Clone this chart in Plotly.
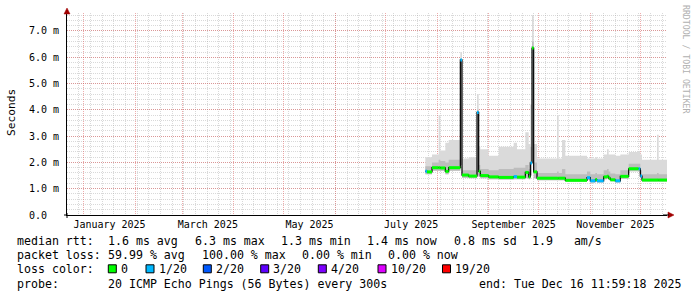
import plotly.graph_objects as go

# ---------------- data ----------------
X_START = "2024-12-22"
X_END = "2025-12-17"
DATA_END = "2025-12-17"

seg_start = [
    "2025-07-25", "2025-07-26", "2025-07-29", "2025-08-02", "2025-08-03", "2025-08-06",
    "2025-08-08", "2025-08-15", "2025-08-16", "2025-08-20", "2025-08-25", "2025-08-26",
    "2025-08-27", "2025-09-01", "2025-09-07", "2025-09-16", "2025-09-18", "2025-09-23",
    "2025-09-25", "2025-09-26", "2025-09-27", "2025-09-28", "2025-09-30", "2025-10-12",
    "2025-10-13", "2025-10-15", "2025-10-17", "2025-10-30", "2025-11-01", "2025-11-04",
    "2025-11-05", "2025-11-09", "2025-11-11", "2025-11-12", "2025-11-13", "2025-11-16",
    "2025-11-19", "2025-11-24", "2025-11-30", "2025-12-01", "2025-12-02", "2025-12-11",
    "2025-12-12",
]
median_ms = [
    1.66, 1.64, 1.80, 1.80, 1.79, 1.66,
    1.80, 5.90, 1.52, 1.48, 3.90, 1.66,
    1.50, 1.45, 1.43, 1.46, 1.44, 1.62,
    1.45, 1.98, 6.35, 1.64, 1.40, 1.40,
    1.40, 1.40, 1.32, 1.42, 1.30, 1.35,
    1.30, 1.45, 1.47, 1.40, 1.34, 1.30,
    1.47, 1.76, 1.76, 1.48, 1.33, 1.33,
    1.33,
]
loss_count = [
    1, 0, 0, 0, 0, 0,
    0, 1, 0, 0, 1, 0,
    0, 0, 0, 1, 0, 0,
    0, 1, 0, 0, 0, 0,
    0, 0, 0, 1, 1, 0,
    1, 0, 0, 0, 0, 1,
    0, 0, 1, 1, 0, 0,
    0,
]
ping_min = [
    1.55, 1.55, 1.68, 1.68, 1.68, 1.55,
    1.68, 1.90, 1.42, 1.40, 1.50, 1.45,
    1.40, 1.36, 1.35, 1.36, 1.36, 1.40,
    1.36, 1.50, 2.00, 1.40, 1.32, 1.32,
    1.32, 1.32, 1.26, 1.34, 1.24, 1.28,
    1.24, 1.36, 1.38, 1.33, 1.28, 1.24,
    1.38, 1.66, 1.66, 1.40, 1.27, 1.27,
    1.27,
]
ping_mid = [
    1.85, 1.85, 2.00, 2.10, 2.05, 2.00,
    2.10, 5.95, 1.70, 1.70, 4.00, 1.90,
    1.75, 1.70, 1.75, 1.80, 1.80, 1.90,
    1.75, 2.60, 6.60, 2.00, 1.60, 1.65,
    1.60, 1.75, 1.55, 1.65, 1.55, 1.60,
    1.55, 1.70, 1.75, 1.65, 1.58, 1.55,
    1.70, 1.95, 1.95, 1.70, 1.55, 1.60,
    1.55,
]
ping_max = [
    2.20, 2.20, 2.30, 3.80, 2.45, 2.75,
    2.85, 6.20, 2.15, 2.20, 4.60, 2.60,
    2.50, 2.25, 2.60, 2.75, 2.50, 3.15,
    2.70, 4.20, 7.60, 2.70, 2.15, 3.80,
    2.15, 2.85, 2.25, 2.15, 2.15, 2.20,
    2.15, 2.30, 2.50, 2.30, 2.30, 2.25,
    2.30, 2.40, 2.40, 2.30, 2.10, 3.05,
    2.10,
]

month_starts = ["2025-%02d-01" % m for m in range(1, 13)]
label_dates = ["2025-01-16 12:00", "2025-03-16 12:00", "2025-05-16 12:00",
               "2025-07-16 12:00", "2025-09-16", "2025-11-16"]
label_text = ["January 2025", "March 2025", "May 2025", "July 2025",
              "September 2025", "November 2025"]
y_ticks = [0, 1, 2, 3, 4, 5, 6, 7]
y_text = ["0.0\u00a0\u00a0", "1.0 m", "2.0 m", "3.0 m", "4.0 m", "5.0 m", "6.0 m", "7.0 m"]

loss_levels = [0, 1, 2, 3, 4, 10, 19]
loss_labels = ["0", "1/20", "2/20", "3/20", "4/20", "10/20", "19/20"]
loss_colors = ["#00ff00", "#00b8ff", "#0059ff", "#5e00ff", "#7e00ff", "#dd00ff", "#ff0000"]

legend_row1 = ["median rtt:", "1.6 ms avg", "6.3 ms max", "1.3 ms min", "1.4 ms now",
               "0.8 ms sd", "1.9\u00a0\u00a0\u00a0am/s"]
legend_row2 = ["packet loss:", "59.99 % avg", "100.00 % max", "0.00 % min", "0.00 % now"]
probe_text = "20 ICMP Echo Pings (56 Bytes) every 300s"
end_text = "end: Tue Dec 16 11:59:18 2025"

# ---------------- layout geometry (pixels) ----------------
W, H = 697, 297
PL, PR, PT, PB = 67, 667, 13, 215
MONO = "DejaVu Sans Mono"


def fx(px):
    return (px - PL) / (PR - PL)


def fy(py):
    return (PB - py) / (PB - PT)


fig = go.Figure()

xs = seg_start + [DATA_END]


def ext(v):
    return v + [v[-1]]


# smoke: light band min..max
fig.add_trace(go.Scatter(x=xs, y=ext(ping_min), mode="lines", line=dict(width=0, shape="hv"),
                         hoverinfo="skip", showlegend=False))
fig.add_trace(go.Scatter(x=xs, y=ext(ping_max), mode="lines", line=dict(width=0, shape="hv"),
                         fill="tonexty", fillcolor="#dadada", hoverinfo="skip", showlegend=False))
# smoke: darker band min..mid
fig.add_trace(go.Scatter(x=xs, y=ext(ping_min), mode="lines", line=dict(width=0, shape="hv"),
                         hoverinfo="skip", showlegend=False))
fig.add_trace(go.Scatter(x=xs, y=ext(ping_mid), mode="lines", line=dict(width=0, shape="hv"),
                         fill="tonexty", fillcolor="#bdbdbd", hoverinfo="skip", showlegend=False))
# median step line
fig.add_trace(go.Scatter(x=xs, y=ext(median_ms), mode="lines",
                         line=dict(width=1.2, shape="hv", color="#000000"),
                         hoverinfo="skip", showlegend=False))
# loss-coloured median segments
seg_end = seg_start[1:] + [DATA_END]
for lvl, col in zip(loss_levels, loss_colors):
    sx, sy = [], []
    for s, e, m, l in zip(seg_start, seg_end, median_ms, loss_count):
        if l == lvl:
            sx += [s, e, None]
            sy += [m, m, None]
    if sx:
        fig.add_trace(go.Scatter(x=sx, y=sy, mode="lines", line=dict(width=3, color=col),
                                 hoverinfo="skip", showlegend=False))

# dummy trace for label axis
fig.add_trace(go.Scatter(x=[X_START, X_END], y=[0, 0], xaxis="x2", mode="markers",
                         marker=dict(opacity=0), hoverinfo="skip", showlegend=False))

RED_GRID = "rgba(220,70,70,0.45)"
GRAY_GRID = "rgba(160,160,160,0.40)"

fig.update_layout(
    width=W, height=H, autosize=False,
    margin=dict(l=PL, r=W - PR, t=PT, b=H - PB, pad=0),
    paper_bgcolor="#ffffff", plot_bgcolor="#ffffff",
    showlegend=False,
    xaxis=dict(
        type="date", range=[X_START, X_END],
        tickmode="array", tickvals=month_starts, ticktext=[""] * len(month_starts),
        showticklabels=False, ticks="",
        showgrid=True, gridcolor=RED_GRID, griddash="1px,1px", gridwidth=1,
        minor=dict(tick0="2024-12-22", dtick=7 * 86400000, showgrid=True,
                   gridcolor=GRAY_GRID, griddash="1px,1px", gridwidth=1, ticks=""),
        showline=True, linecolor="#000000", linewidth=1,
        zeroline=False, fixedrange=True,
    ),
    xaxis2=dict(
        type="date", range=[X_START, X_END], overlaying="x", anchor="y", side="bottom",
        tickmode="array", tickvals=label_dates, ticktext=label_text,
        showgrid=False, ticks="", showline=False, zeroline=False,
        tickfont=dict(family=MONO, size=10, color="#000000"),
        ticklabelstandoff=2,
    ),
    yaxis=dict(
        range=[0, (PB - PT) / 26.29],
        tickmode="array", tickvals=y_ticks, ticktext=y_text,
        showgrid=True, gridcolor=RED_GRID, griddash="1px,1px", gridwidth=1,
        minor=dict(tick0=0, dtick=0.2, showgrid=True, gridcolor=GRAY_GRID,
                   griddash="1px,1px", gridwidth=1, ticks=""),
        ticks="", ticklabelstandoff=5,
        tickfont=dict(family=MONO, size=10, color="#000000"),
        showline=True, linecolor="#000000", linewidth=1,
        zeroline=False, fixedrange=True,
    ),
)

# axis arrows and axis extensions
ARROW = "#a00000"
fig.add_shape(type="path", xref="paper", yref="paper",
              path="M %f %f L %f %f L %f %f Z" % (fx(67), fy(8), fx(64), fy(14), fx(70), fy(14)),
              fillcolor=ARROW, line=dict(color=ARROW, width=0.5))
fig.add_shape(type="path", xref="paper", yref="paper",
              path="M %f %f L %f %f L %f %f Z" % (fx(674), fy(215), fx(668), fy(212), fx(668), fy(218)),
              fillcolor=ARROW, line=dict(color=ARROW, width=0.5))
fig.add_shape(type="line", xref="paper", yref="paper", x0=fx(663), x1=fx(669), y0=fy(215), y1=fy(215),
              line=dict(color="#000000", width=1))
fig.add_shape(type="line", xref="paper", yref="paper", x0=fx(64), x1=fx(67), y0=fy(215), y1=fy(215),
              line=dict(color="#000000", width=1))
fig.add_shape(type="line", xref="paper", yref="paper", x0=fx(67), x1=fx(67), y0=fy(213), y1=fy(218),
              line=dict(color="#000000", width=1))


def text(px, py, s, size=11.6, color="#000000", anchor="left", angle=0, family=MONO):
    fig.add_annotation(x=fx(px), y=fy(py), xref="paper", yref="paper", text=s,
                       showarrow=False, xanchor=anchor, yanchor="middle", textangle=angle,
                       borderpad=0, font=dict(family=family, size=size, color=color))


# y-axis title and watermark
text(11, 113, "Seconds", size=11.2, anchor="center", angle=-90)
text(686, 59, "RRDTOOL / TOBI OETIKER", size=8.2, color="#b0b0b0", anchor="center", angle=90)

ROWS = [241, 255, 269.3, 283.5]
row1_x = [16, 107.3, 193.6, 280, 366.3, 452.6, 530.6]
for s, x in zip(legend_row1, row1_x):
    text(x, ROWS[0], s)
row2_x = [16, 107.3, 200.6, 300.9, 387.2]
for s, x in zip(legend_row2, row2_x):
    text(x, ROWS[1], s)

text(16, ROWS[2], "loss color:")
sq_x = [108.3, 146, 203.3, 260.7, 318.3, 378, 442.5]
for lab, col, x in zip(loss_labels, loss_colors, sq_x):
    fig.add_shape(type="rect", xref="paper", yref="paper",
                  x0=fx(x), x1=fx(x + 8), y0=fy(ROWS[2] - 4.5), y1=fy(ROWS[2] + 3.5),
                  fillcolor=col, line=dict(color="#000000", width=1))
    text(x + 11.5, ROWS[2], lab)

text(16, ROWS[3], "probe:")
text(107.3, ROWS[3], probe_text)
text(681.5, ROWS[3], end_text, anchor="right")

fig.write_html("out.html")
